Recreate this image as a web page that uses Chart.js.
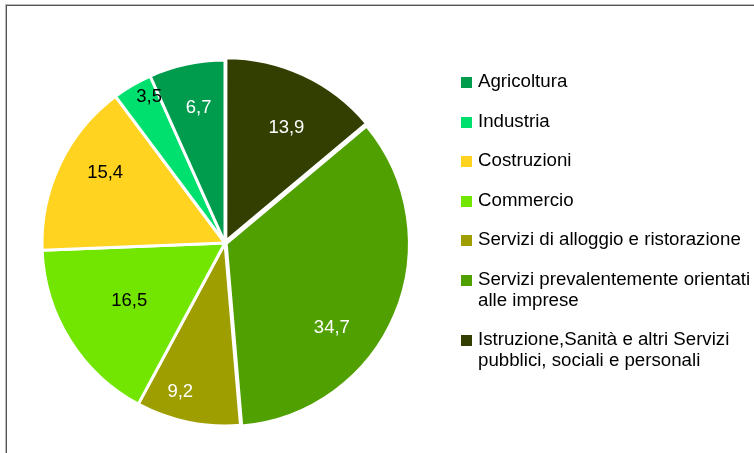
<!DOCTYPE html>
<html>
<head>
<meta charset="utf-8">
<script src="https://cdn.jsdelivr.net/npm/chart.js@4.4.1/dist/chart.umd.min.js"></script>
<style>
  html, body { margin:0; padding:0; background:#fff; }
  body { width:754px; height:453px; position:relative; overflow:hidden; font-family:"Liberation Sans", Arial, sans-serif; }
  #frame { position:absolute; left:6px; top:5px; width:800px; height:500px; border-top:1px solid #555; border-left:1px solid #555; box-shadow:-1px -1px 0 #bbb; }
  #wrap { position:absolute; left:0; top:0; width:754px; height:453px; }
  #legend { position:absolute; left:461px; top:70px; margin:0; padding:0; list-style:none; }
  #legend li { position:relative; padding-left:17px; font-size:18.7px; line-height:21px; margin-bottom:18.5px; color:#000; white-space:nowrap; }
  #legend li span.box { position:absolute; left:0; top:7px; width:11px; height:11px; }
</style>
</head>
<body>
<div id="frame"></div>
<div id="wrap"><canvas id="c" width="754" height="453"></canvas></div>
<ul id="legend"></ul>
<script>
// ---- data (legend order) ----
const categories = [
  "Agricoltura",
  "Industria",
  "Costruzioni",
  "Commercio",
  "Servizi di alloggio e ristorazione",
  ["Servizi prevalentemente orientati", "alle imprese"],
  ["Istruzione,Sanità e altri Servizi", "pubblici, sociali e personali"]
];
const values = [6.7, 3.5, 15.4, 16.5, 9.2, 34.7, 13.9];

// ---- styles (legend order) ----
const colors = ["#009c4e", "#00e06e", "#ffd320", "#72e600", "#9e9e00", "#4fa000", "#333f00"];
const labelColors = ["#fff", "#000", "#000", "#000", "#fff", "#fff", "#fff"];
const explode = [0, 0, 0, 0, 0, 5, 8];
const labelRadius = [0.75, 0.9, 0.76, 0.61, 0.85, 0.72, 0.67];
const labelAngleShift = [1, 3, 5, 1, 5, 16, 3];

// chart draws clockwise from top; the reference runs counter-clockwise in legend order
const order = values.map((_, i) => values.length - 1 - i);
const chartLabels = order.map(i => Array.isArray(categories[i]) ? categories[i].join(" ") : categories[i]);
const chartValues = order.map(i => values[i]);

const fmt = v => v.toFixed(1).replace(".", ",");

const labelPlugin = {
  id: "sliceLabels",
  afterDatasetsDraw(chart) {
    const ctx = chart.ctx;
    const meta = chart.getDatasetMeta(0);
    ctx.save();
    ctx.font = '18.5px "Liberation Sans", Arial, sans-serif';
    ctx.textAlign = "center";
    ctx.textBaseline = "middle";
    meta.data.forEach((arc, j) => {
      const i = order[j];
      const p = arc.getProps(["x", "y", "startAngle", "endAngle", "outerRadius"], true);
      const mid = (p.startAngle + p.endAngle) / 2 + labelAngleShift[i] * Math.PI / 180;
      const off = explode[i];
      const r = p.outerRadius * labelRadius[i] + off;
      const x = p.x + Math.cos(mid) * r;
      const y = p.y + Math.sin(mid) * r;
      ctx.fillStyle = labelColors[i];
      ctx.fillText(fmt(values[i]), x, y);
    });
    ctx.restore();
  }
};

new Chart(document.getElementById("c"), {
  type: "pie",
  data: {
    labels: chartLabels,
    datasets: [{
      data: chartValues,
      backgroundColor: order.map(i => colors[i]),
      borderColor: "#ffffff",
      borderWidth: 3,
      offset: order.map(i => explode[i])
    }]
  },
  options: {
    responsive: false,
    animation: false,
    radius: 183,
    layout: { padding: { left: 40, right: 344, top: 60, bottom: 27 } },
    plugins: {
      legend: { display: false },
      tooltip: { enabled: false }
    }
  },
  plugins: [labelPlugin]
});

// legend (legend order)
const ul = document.getElementById("legend");
categories.forEach((c, i) => {
  const li = document.createElement("li");
  const box = document.createElement("span");
  box.className = "box";
  box.style.background = colors[i];
  li.appendChild(box);
  const lines = Array.isArray(c) ? c : [c];
  lines.forEach((t, k) => {
    if (k) li.appendChild(document.createElement("br"));
    li.appendChild(document.createTextNode(t));
  });
  ul.appendChild(li);
});
</script>
</body>
</html>
